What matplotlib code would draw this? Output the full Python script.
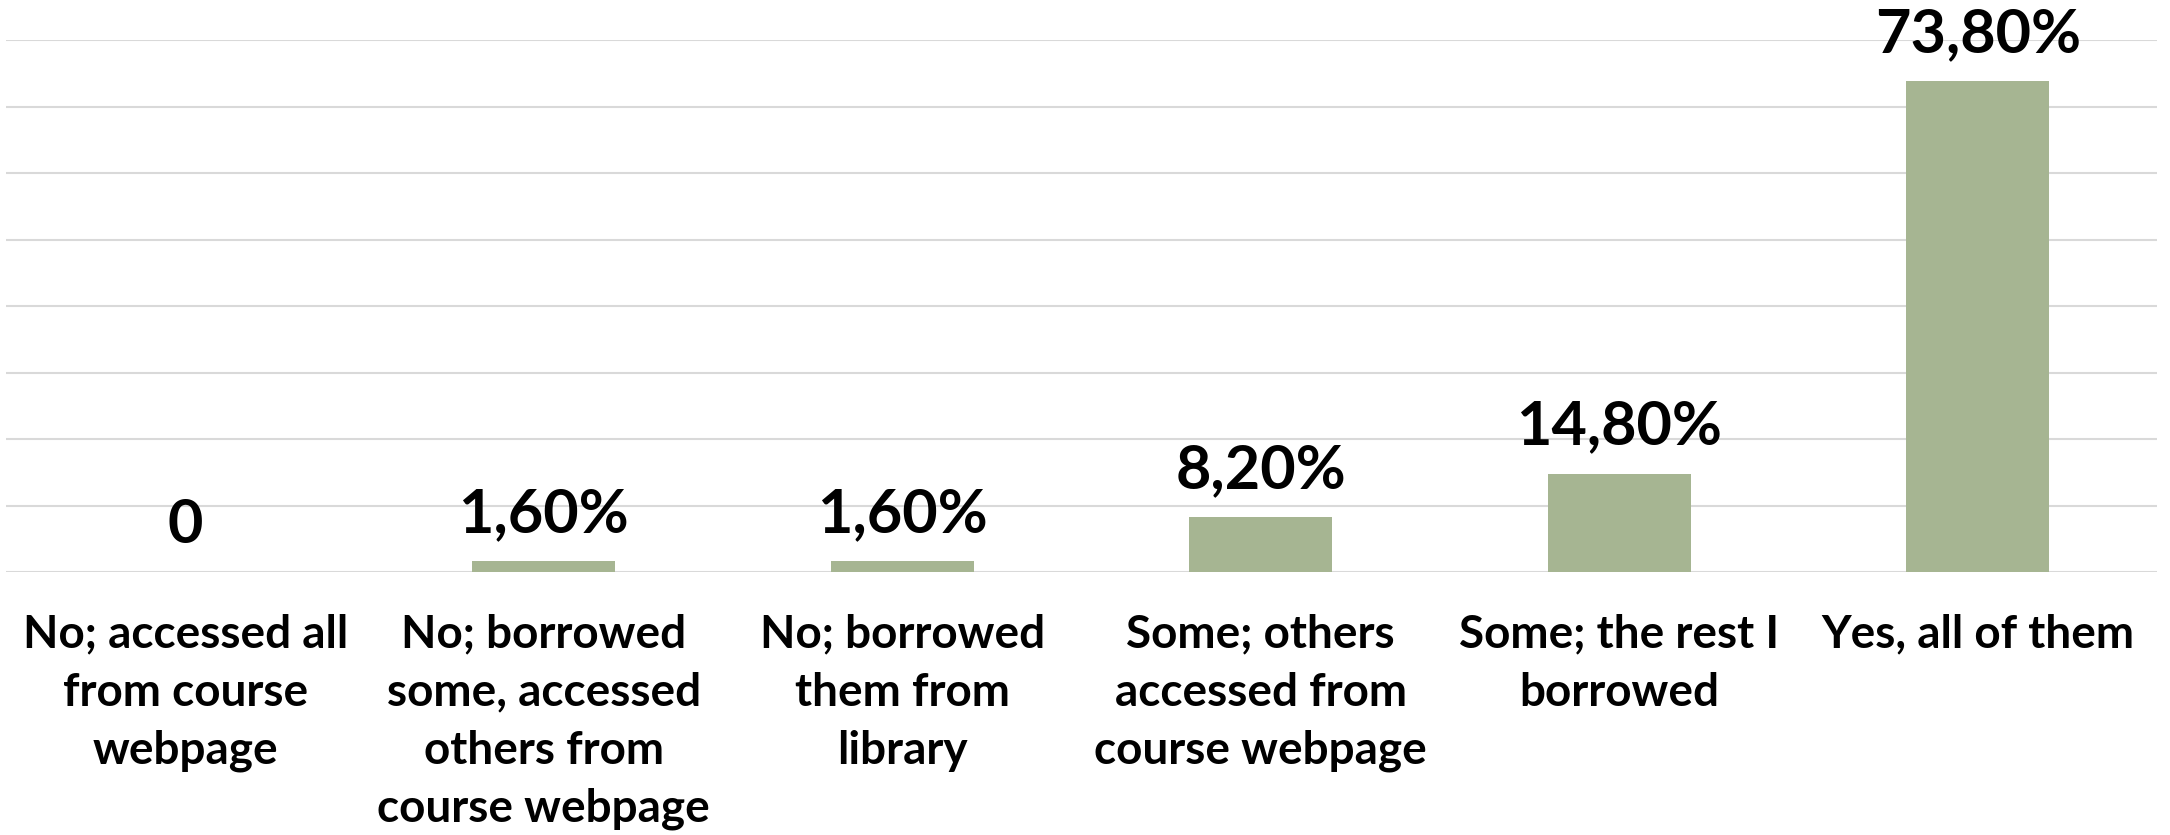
"""
Bar chart of how students obtained their course materials.
"""

import matplotlib.pyplot as plt

categories = [
    "No; accessed all\nfrom course\nwebpage",
    "No; borrowed\nsome, accessed\nothers from\ncourse webpage",
    "No; borrowed\nthem from\nlibrary",
    "Some; others\naccessed from\ncourse webpage",
    "Some; the rest I\nborrowed",
    "Yes, all of them",
]
shares = [0.0, 1.6, 1.6, 8.2, 14.8, 73.8]
y_ticks = [0, 10, 20, 30, 40, 50, 60, 70, 80]

BAR_COLOR = "#a6b592"
GRID_COLOR = "#d9d9d9"

plt.rcParams['font.family'] = ['Lato', 'DejaVu Sans']

fig = plt.figure(figsize=(21.7, 8.35), dpi=100)
ax = fig.add_axes([6 / 2170, 263 / 835, 2151 / 2170, 532 / 835])

x = list(range(len(categories)))
bars = ax.bar(x, shares, width=0.4, color=BAR_COLOR, zorder=2)

# data labels above each bar
for xi, v in zip(x, shares):
    label = "0" if v == 0 else f"{v:.2f}%".replace(".", ",")
    ax.annotate(label, xy=(xi, v), xytext=(0, 34), textcoords="offset points",
                ha="center", va="center", fontsize=44, fontweight="bold",
                color="black", zorder=3)

ax.set_xlim(-0.5, len(categories) - 0.5)
ax.set_ylim(0, 80)
ax.set_yticks(y_ticks)
ax.yaxis.grid(True, color=GRID_COLOR, linewidth=1.5, zorder=0)
ax.set_yticklabels([])
ax.tick_params(axis="y", length=0)

ax.set_xticks(x)
ax.set_xticklabels(categories, fontsize=33, fontweight="bold",
                   linespacing=1.47, va="top")
ax.tick_params(axis="x", length=0, pad=30)

for side in ["top", "right", "left", "bottom"]:
    ax.spines[side].set_visible(False)

plt.savefig("out.png", dpi=100)
